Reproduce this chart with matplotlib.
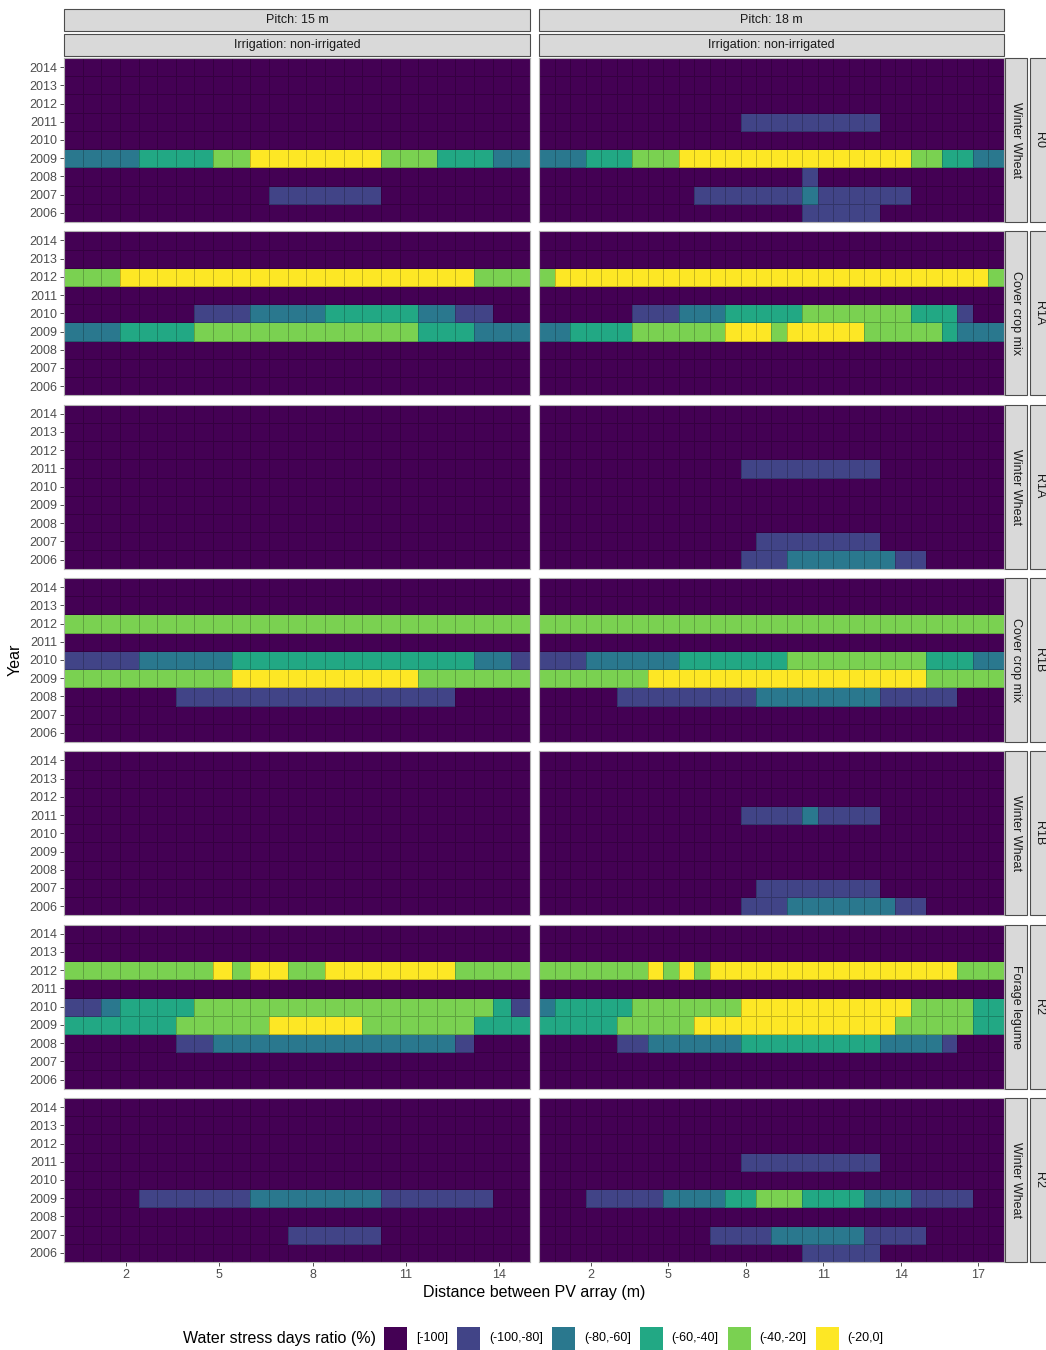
import numpy as np
import matplotlib
matplotlib.use("Agg")
import matplotlib.pyplot as plt
from matplotlib.colors import ListedColormap, BoundaryNorm
from matplotlib.patches import Rectangle

plt.rcParams['font.family'] = ['Liberation Sans', 'DejaVu Sans']

# ---------------------------------------------------------------- data
years = list(range(2006, 2015))
classes = ["[-100]", "(-100,-80]", "(-80,-60]", "(-60,-40]", "(-40,-20]", "(-20,0]"]
class_colors = ["#440154", "#414487", "#2A788E", "#22A884", "#7AD151", "#FDE725"]
pitches = [15, 18]
cell_width = 0.6
scenarios = ["R0", "R1A", "R1A", "R1B", "R1B", "R2", "R2"]
crops = ["Winter Wheat", "Cover crop mix", "Winter Wheat", "Cover crop mix",
         "Winter Wheat", "Forage legume", "Winter Wheat"]

# Stress class along the inter-row distance, stored as (class, n cells) runs.
# Years that are not listed stay in class 0 over the whole width.
pitch15_runs = [
    {2009: [(2, 4), (3, 4), (4, 2), (5, 7), (4, 3), (3, 3), (2, 2)],
     2007: [(0, 11), (1, 6), (0, 8)]},
    {2012: [(4, 3), (5, 19), (4, 3)],
     2010: [(0, 7), (1, 3), (2, 4), (3, 5), (2, 2), (1, 2), (0, 2)],
     2009: [(2, 3), (3, 4), (4, 12), (3, 3), (2, 3)]},
    {},
    {2012: [(4, 25)],
     2010: [(1, 4), (2, 5), (3, 13), (2, 2), (1, 1)],
     2009: [(4, 9), (5, 10), (4, 6)],
     2008: [(0, 6), (1, 15), (0, 4)]},
    {},
    {2012: [(4, 8), (5, 1), (4, 1), (5, 2), (4, 2), (5, 7), (4, 4)],
     2010: [(1, 2), (2, 1), (3, 4), (4, 16), (3, 1), (1, 1)],
     2009: [(3, 6), (4, 5), (5, 5), (4, 6), (3, 3)],
     2008: [(0, 6), (1, 2), (2, 13), (1, 1), (0, 3)]},
    {2009: [(0, 4), (1, 6), (2, 7), (1, 6), (0, 2)],
     2007: [(0, 12), (1, 5), (0, 8)]},
]
pitch18_runs = [
    {2011: [(0, 13), (1, 9), (0, 8)],
     2009: [(2, 3), (3, 3), (4, 3), (5, 15), (4, 2), (3, 2), (2, 2)],
     2008: [(0, 17), (1, 1), (0, 12)],
     2007: [(0, 10), (1, 7), (2, 1), (1, 6), (0, 6)],
     2006: [(0, 17), (1, 5), (0, 8)]},
    {2012: [(4, 1), (5, 28), (4, 1)],
     2010: [(0, 6), (1, 3), (2, 3), (3, 5), (4, 7), (3, 3), (1, 1), (0, 2)],
     2009: [(2, 2), (3, 4), (4, 6), (5, 3), (4, 1), (5, 5), (4, 5), (3, 1), (2, 3)]},
    {2011: [(0, 13), (1, 9), (0, 8)],
     2007: [(0, 14), (1, 8), (0, 8)],
     2006: [(0, 13), (1, 3), (2, 7), (1, 2), (0, 5)]},
    {2012: [(4, 30)],
     2010: [(1, 3), (2, 6), (3, 7), (4, 9), (3, 3), (2, 2)],
     2009: [(4, 7), (5, 18), (4, 5)],
     2008: [(0, 5), (1, 9), (2, 8), (1, 5), (0, 3)]},
    {2011: [(0, 13), (1, 4), (2, 1), (1, 4), (0, 8)],
     2007: [(0, 14), (1, 8), (0, 8)],
     2006: [(0, 13), (1, 3), (2, 7), (1, 2), (0, 5)]},
    {2012: [(4, 7), (5, 1), (4, 1), (5, 1), (4, 1), (5, 16), (4, 3)],
     2010: [(2, 1), (3, 5), (4, 7), (5, 11), (4, 4), (3, 2)],
     2009: [(3, 5), (4, 5), (5, 13), (4, 5), (3, 2)],
     2008: [(0, 5), (1, 2), (2, 6), (3, 9), (2, 4), (1, 1), (0, 3)]},
    {2011: [(0, 13), (1, 9), (0, 8)],
     2009: [(0, 3), (1, 5), (2, 4), (3, 2), (4, 3), (3, 4), (2, 3), (1, 4), (0, 2)],
     2007: [(0, 11), (1, 4), (2, 6), (1, 4), (0, 5)],
     2006: [(0, 17), (1, 5), (0, 8)]},
]
runs_by_pitch = [pitch15_runs, pitch18_runs]


def build_grid(runs, pitch):
    n = int(round(pitch / cell_width))
    grid = np.zeros((len(years), n))
    for yr, segs in runs.items():
        codes = [c for c, _ in segs]
        counts = [k for _, k in segs]
        row = np.repeat(codes, counts)
        if len(row) != n:
            raise ValueError(f"{yr}: {len(row)} cells, expected {n}")
        grid[years.index(yr)] = row
    return grid


# ---------------------------------------------------------------- layout
W, H = 1046, 1350
fig = plt.figure(figsize=(W / 100, H / 100), dpi=100)
fig.patch.set_facecolor("white")

cmap = ListedColormap(class_colors)
norm = BoundaryNorm(np.arange(-0.5, len(classes) + 0.5), cmap.N)

col_x = [64, 539]
col_w = [466, 465]
row_top0, row_step, row_h = 58, 173.33, 164
strip_fc, strip_ec = "#D9D9D9", "#4D4D4D"
tick_col = "#4D4D4D"


def fig_rect(x, y, w, h):
    return [x / W, 1 - (y + h) / H, w / W, h / H]


def strip(x, y, w, h, text, rot=0, tx=None):
    fig.add_artist(Rectangle((x / W, 1 - (y + h) / H), w / W, h / H,
                             transform=fig.transFigure, facecolor=strip_fc,
                             edgecolor=strip_ec, linewidth=0.8, clip_on=False))
    cx = x + w / 2 if tx is None else tx
    fig.text(cx / W, 1 - (y + h / 2) / H, text, rotation=rot,
             ha="center", va="center", fontsize=9, color="#1A1A1A")


n_rows = len(scenarios)
for r in range(n_rows):
    top = row_top0 + r * row_step
    for c, pitch in enumerate(pitches):
        ax = fig.add_axes(fig_rect(col_x[c], top, col_w[c], row_h))
        grid = build_grid(runs_by_pitch[c][r], pitch)
        xedges = np.linspace(0, pitch, grid.shape[1] + 1)
        yedges = np.arange(years[0] - 0.5, years[-1] + 1.0, 1.0)
        ax.pcolormesh(xedges, yedges, grid, cmap=cmap, norm=norm,
                      edgecolors=(0, 0, 0, 0.22), linewidth=0.5)
        ax.set_xlim(0, pitch)
        ax.set_ylim(years[0] - 0.5, years[-1] + 0.5)
        for s in ax.spines.values():
            s.set_color("#B3B3B3")
            s.set_linewidth(0.8)
        ax.tick_params(length=3, width=0.6, color="#333333",
                       labelsize=9, labelcolor=tick_col, pad=2)
        if c == 0:
            ax.set_yticks(years)
            ax.set_yticklabels([str(y) for y in years])
        else:
            ax.set_yticks([])
        if r == n_rows - 1:
            ax.set_xticks(np.arange(2, pitch + 0.01, 3))
        else:
            ax.set_xticks([])

    # facet strips on the right
    strip(1005, top, 22, row_h, crops[r], rot=-90)
    strip(1030, top, 22, row_h, scenarios[r], rot=-90, tx=1039)

for c, pitch in enumerate(pitches):
    strip(col_x[c], 9, col_w[c], 22, f"Pitch: {pitch} m")
    strip(col_x[c], 34, col_w[c], 22, "Irrigation: non-irrigated")

# axis titles
fig.text((col_x[0] + col_x[1] + col_w[1]) / 2 / W, 1 - 1293 / H,
         "Distance between PV array (m)", ha="center", va="center", fontsize=11.5)
fig.text(15 / W, 1 - 660 / H, "Year", rotation=90, ha="center", va="center",
         fontsize=11.5)

# legend
leg_y = 1338
fig.text(183 / W, 1 - leg_y / H, "Water stress days ratio (%)", ha="left",
         va="center", fontsize=11.5)
renderer = fig.canvas.get_renderer()
x = 384
key = 23
for lab, col in zip(classes, class_colors):
    fig.add_artist(Rectangle((x / W, 1 - (leg_y + key / 2) / H), key / W, key / H,
                             transform=fig.transFigure, facecolor=col,
                             edgecolor="none", clip_on=False))
    t = fig.text((x + key + 9) / W, 1 - leg_y / H, lab, ha="left", va="center",
                 fontsize=9)
    bb = t.get_window_extent(renderer)
    x = bb.x1 + 9

fig.savefig("out.png", dpi=100, facecolor="white")
